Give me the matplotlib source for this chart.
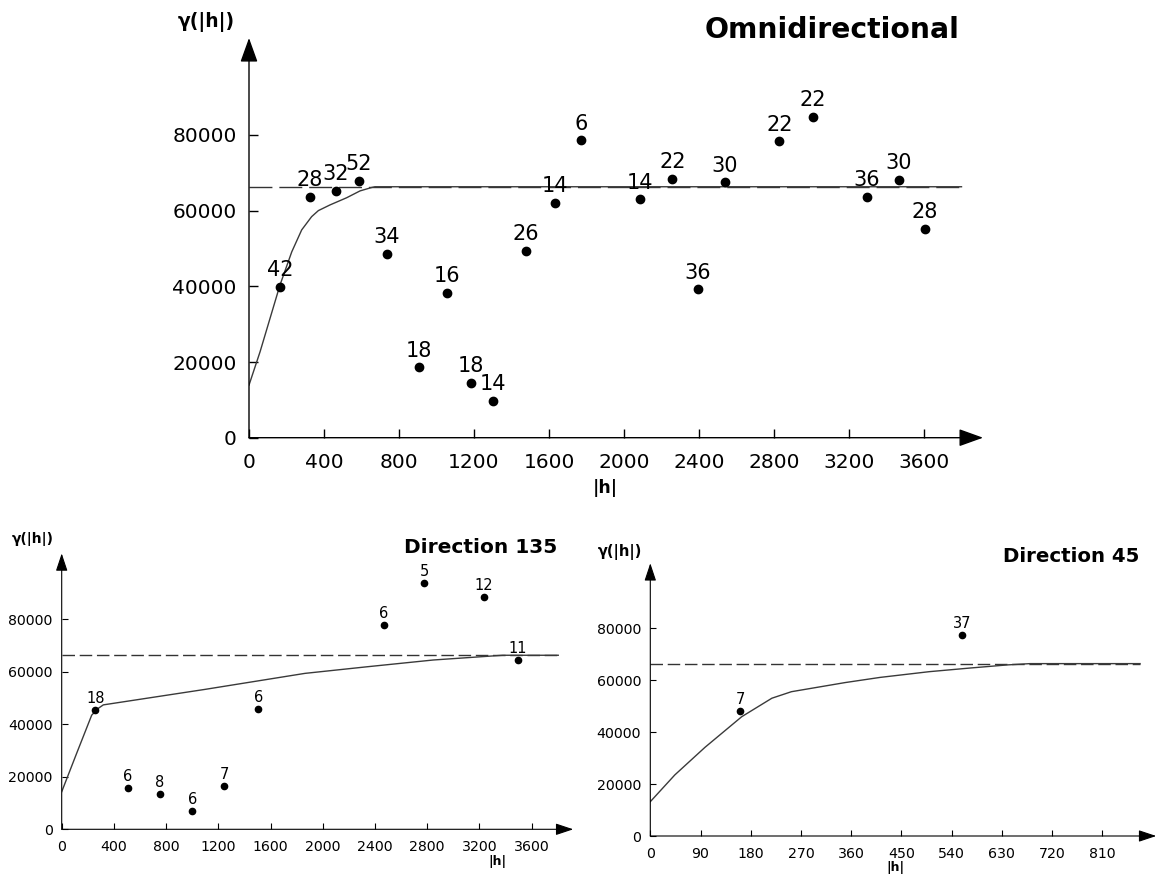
import matplotlib
matplotlib.use('Agg')
import matplotlib.pyplot as plt

# 基台值（三幅图共用）
sill = 66300

# 全方向实验变异函数：滞后距、半方差、点对数
omni_h = [165, 325, 462, 587, 734, 905, 1054, 1182, 1303, 1475, 1632, 1771,
          2085, 2258, 2393, 2539, 2829, 3008, 3294, 3467, 3604]
omni_g = [39900, 63700, 65200, 67800, 48500, 18600, 38200, 14500, 9700, 49400, 62100, 78600,
          63000, 68300, 39200, 67500, 78300, 84700, 63700, 68200, 55100]
omni_n = [42, 28, 32, 52, 34, 18, 16, 18, 14, 26, 14, 6,
          14, 22, 36, 30, 22, 22, 36, 30, 28]
# 全方向拟合模型曲线
omni_model_h = [0, 59, 112, 165, 228, 281, 334, 370, 432, 521, 592, 654, 672, 3800]
omni_model_g = [13900, 22700, 31500, 40300, 49100, 54900, 58400, 60000, 61500, 63400,
                65200, 66100, 66300, 66300]
omni_xticks = [0, 400, 800, 1200, 1600, 2000, 2400, 2800, 3200, 3600]

# 方向 135
d135_h = [258, 506, 751, 1001, 1246, 1507, 2470, 2776, 3234, 3494]
d135_g = [45500, 15600, 13500, 6900, 16600, 45700, 77800, 93900, 88600, 64500]
d135_n = [18, 6, 8, 6, 7, 6, 6, 5, 12, 11]
d135_model_h = [0, 115, 230, 281, 319, 1098, 1864, 2337, 2848, 3231, 3380, 3805]
d135_model_g = [14300, 29000, 43500, 46100, 47400, 53300, 59400, 61900, 64500, 65800,
                66300, 66300]
d135_xticks = [0, 400, 800, 1200, 1600, 2000, 2400, 2800, 3200, 3600]

# 方向 45
d45_h = [161, 559]
d45_g = [48100, 77300]
d45_n = [7, 37]
d45_model_h = [0, 44, 98, 164, 218, 253, 349, 412, 500, 573, 640, 681, 878]
d45_model_g = [13200, 23500, 34100, 45900, 53000, 55500, 59000, 61000, 63200, 64600,
               65800, 66300, 66300]
d45_xticks = [0, 90, 180, 270, 360, 450, 540, 630, 720, 810]

yticks = [0, 20000, 40000, 60000, 80000]

W, H = 1159, 881
fig = plt.figure(figsize=(W / 100, H / 100), dpi=100)


def panel(left, base, width, height, xmax, ytip, h, g, n, mh, mg, xticks, big):
    ax = fig.add_axes([left / W, (H - base) / H, width / W, height / H])
    ax.set_xlim(0, xmax)
    ax.set_ylim(0, 110000)
    for s in ax.spines.values():
        s.set_visible(False)

    if big:
        lw, hl, hw, ms, fs, off, tfs, tl = 1.0, 15, 5.4, 6, 15, 7.7, 14.5, 6.5
        xpad, ypad, dash = 11, 8.9, (16.5, 5)
    else:
        lw, hl, hw, ms, fs, off, tfs, tl = 0.8, 10.8, 3.6, 4.5, 10.5, 5.2, 10.2, 4.6
        xpad, ypad, dash = 7.6, 6.6, (9, 3.4)

    # 坐标轴箭头
    arrow = dict(arrowstyle=f'-|>,head_length={hl},head_width={hw}', lw=lw, color='k',
                 shrinkA=0, shrinkB=0, mutation_scale=1)
    ax.annotate('', xy=(xmax, 0), xytext=(0, 0), arrowprops=arrow, annotation_clip=False)
    ax.annotate('', xy=(0, ytip), xytext=(0, 0), arrowprops=arrow, annotation_clip=False)

    ax.set_xticks(xticks)
    ax.set_yticks(yticks)
    ax.tick_params(axis='both', direction='in', length=tl, width=lw, labelsize=tfs)
    ax.tick_params(axis='x', pad=xpad)
    ax.tick_params(axis='y', pad=ypad)

    # 基台值虚线与模型曲线
    ax.plot([0, mh[-1]], [sill, sill], color='#333333', lw=1.0, dashes=dash)
    ax.plot(mh, mg, color='#3a3a3a', lw=1.0)

    # 实验点及点对数
    ax.plot(h, g, 'o', color='k', ms=ms, ls='none')
    for x, y, k in zip(h, g, n):
        ax.annotate(str(k), (x, y), xytext=(0, off), textcoords='offset points',
                    ha='center', va='baseline', fontsize=fs)
    return ax


panel(249, 437.7, 3915 * 0.1875, 110000 * 75.7 / 20000, 3915, 105600,
      omni_h, omni_g, omni_n, omni_model_h, omni_model_g, omni_xticks, True)
panel(61.7, 829.3, 3920 * 0.1305, 110000 * 52.5 / 20000, 3920, 105100,
      d135_h, d135_g, d135_n, d135_model_h, d135_model_g, d135_xticks, False)
panel(650.3, 836, 907 * 0.5578, 110000 * 52 / 20000, 907, 104900,
      d45_h, d45_g, d45_n, d45_model_h, d45_model_g, d45_xticks, False)


def ftext(x, y, s, **kw):
    fig.text(x / W, 1 - y / H, s, fontweight='bold', **kw)


ftext(959, 38.3, 'Omnidirectional', ha='right', va='baseline', fontsize=20.3)
ftext(557, 553.3, 'Direction 135', ha='right', va='baseline', fontsize=14.5)
ftext(1139, 562.3, 'Direction 45', ha='right', va='baseline', fontsize=14.2)

ftext(206, 22.5, 'γ(|h|)', ha='center', va='center', fontsize=13.5)
ftext(605, 488, '|h|', ha='center', va='center', fontsize=12.5)
ftext(33, 539, 'γ(|h|)', ha='center', va='center', fontsize=10)
ftext(497, 861, '|h|', ha='center', va='center', fontsize=9)
ftext(620, 552, 'γ(|h|)', ha='center', va='center', fontsize=10.5)
ftext(895, 868, '|h|', ha='center', va='center', fontsize=9)

fig.savefig('out.png', dpi=100, facecolor='white')
